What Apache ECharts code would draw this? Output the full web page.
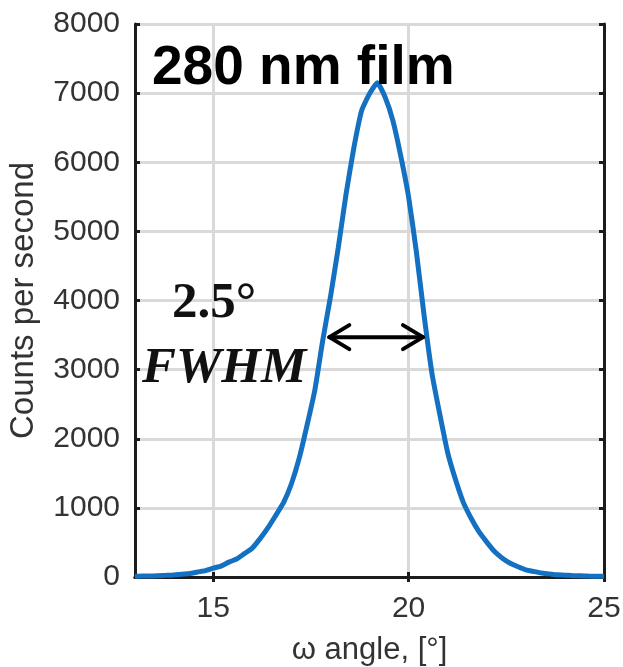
<!DOCTYPE html>
<html>
<head>
<meta charset="utf-8">
<script src="https://cdn.jsdelivr.net/npm/echarts@6/dist/echarts.min.js"></script>
<style>
  html, body { margin: 0; padding: 0; background: #fff; }
  #chart { width: 623px; height: 667px; }
</style>
</head>
<body>
<div id="chart"></div>
<script>
// Rocking curve of the 280 nm film: omega angle (deg) vs counts per second
const omegaAngles = [
  13.0, 13.2, 13.4, 13.6, 13.8, 14.0, 14.2, 14.4, 14.6, 14.8,
  15.0, 15.2, 15.4, 15.6, 15.8, 16.0, 16.2, 16.4, 16.6, 16.8,
  17.0, 17.2, 17.4, 17.6, 17.8, 18.0, 18.2, 18.4, 18.6, 18.8,
  19.0, 19.2, 19.4, 19.6, 19.8, 20.0, 20.2, 20.4, 20.6, 20.8,
  21.0, 21.2, 21.4, 21.6, 21.8, 22.0, 22.2, 22.4, 22.6, 22.8,
  23.0, 23.2, 23.4, 23.6, 23.8, 24.0, 24.2, 24.4, 24.6, 24.8, 25.0
];
const countsPerSecond = [
  10, 14, 13, 19, 24, 30, 41, 50, 72, 92,
  128, 158, 215, 260, 338, 418, 555, 710, 890, 1075,
  1345, 1715, 2190, 2700, 3410, 4050, 4760, 5540, 6210, 6750,
  6990, 7150, 6940, 6600, 6090, 5500, 4700, 3770, 2940, 2350,
  1800, 1410, 1080, 850, 655, 505, 368, 272, 198, 148,
  104, 80, 57, 45, 32, 27, 19, 17, 13, 12, 10
];

// Axis extents and tick spacing
const xMin = 13, xMax = 25, xStep = 1;
const yMin = 0, yMax = 8000, yStep = 1000;
const xTickValues = [15, 20, 25];

// Full width at half maximum annotation
const fwhmLeft = 17.92;
const fwhmWidth = 2.5;
const fwhmLevel = 3470;

const titleText = '280 nm film';
const fwhmValueText = '2.5°';
const fwhmLabelText = 'FWHM';

const curve = omegaAngles.map((x, i) => [x, countsPerSecond[i]]);

const chart = echarts.init(document.getElementById('chart'), null, { renderer: 'canvas' });

const axisLineStyle = { color: '#1c1c1c', width: 3 };
const tickStyle = { color: '#1c1c1c', width: 3 };
const sansFamily = 'Liberation Sans, Arial, sans-serif';

chart.setOption({
  animation: false,
  backgroundColor: '#fff',
  grid: { left: 135, right: 19, top: 24, bottom: 90, containLabel: false, outerBoundsMode: 'none' },
  xAxis: [
    {
      type: 'value', min: xMin, max: xMax, interval: xStep,
      position: 'bottom',
      axisLine: { show: true, lineStyle: axisLineStyle },
      axisTick: { show: true, inside: true, length: 5, lineStyle: tickStyle, customValues: xTickValues },
      axisLabel: {
        fontFamily: sansFamily, fontSize: 30, color: '#333', margin: 17,
        customValues: xTickValues,
        formatter: v => String(v)
      },
      splitLine: { show: true, lineStyle: { color: '#d9d9d9', width: 3 } },
      name: 'ω angle, [°]',
      nameLocation: 'middle',
      nameGap: 58,
      nameTextStyle: { fontFamily: sansFamily, fontSize: 31, color: '#333' }
    },
    {
      type: 'value', min: xMin, max: xMax, interval: xStep,
      position: 'top',
      axisLine: { show: true, lineStyle: axisLineStyle },
      axisTick: { show: true, inside: true, length: 5, lineStyle: tickStyle, customValues: xTickValues },
      axisLabel: { show: false },
      splitLine: { show: false }
    }
  ],
  yAxis: [
    {
      type: 'value', min: yMin, max: yMax, interval: yStep,
      position: 'left',
      axisLine: { show: true, lineStyle: axisLineStyle },
      axisTick: { show: true, inside: true, length: 5, lineStyle: tickStyle },
      axisLabel: { fontFamily: sansFamily, fontSize: 30, color: '#333', margin: 15, formatter: v => String(v) },
      splitLine: { show: true, lineStyle: { color: '#d9d9d9', width: 3 } },
      name: 'Counts per second',
      nameLocation: 'middle',
      nameGap: 95,
      nameTextStyle: { fontFamily: sansFamily, fontSize: 33, color: '#333' }
    },
    {
      type: 'value', min: yMin, max: yMax, interval: yStep,
      position: 'right',
      axisLine: { show: true, lineStyle: axisLineStyle },
      axisTick: { show: true, inside: true, length: 5, lineStyle: tickStyle },
      axisLabel: { show: false },
      splitLine: { show: false }
    }
  ],
  series: [
    {
      type: 'line',
      data: curve,
      xAxisIndex: 0, yAxisIndex: 0,
      showSymbol: false,
      smooth: 0.15,
      lineStyle: { color: '#1470c0', width: 5 },
      z: 3
    },
    {
      // double-headed arrow spanning the half-maximum width
      type: 'custom',
      xAxisIndex: 0, yAxisIndex: 0,
      data: [[fwhmLeft, fwhmLeft + fwhmWidth, fwhmLevel]],
      renderItem: (params, api) => {
        const a = api.coord([api.value(0), api.value(2)]);
        const b = api.coord([api.value(1), api.value(2)]);
        const dx = 22, dy = 12;
        const style = { stroke: '#000', lineWidth: 4, fill: null, lineCap: 'round', lineJoin: 'round' };
        return {
          type: 'group',
          children: [
            { type: 'line', shape: { x1: a[0] + 2, y1: a[1], x2: b[0] - 2, y2: b[1] }, style },
            { type: 'polyline', shape: { points: [[a[0] + dx, a[1] - dy], [a[0] + 2, a[1]], [a[0] + dx, a[1] + dy]] }, style },
            { type: 'polyline', shape: { points: [[b[0] - dx, b[1] - dy], [b[0] - 2, b[1]], [b[0] - dx, b[1] + dy]] }, style }
          ]
        };
      },
      z: 4
    }
  ],
  graphic: [
    {
      type: 'text', left: 152, top: 41, z: 10,
      style: { text: titleText, font: 'bold 55px "Liberation Sans", Arial, sans-serif', fill: '#000' }
    },
    {
      type: 'text', left: 172, top: 278, z: 10,
      style: { text: fwhmValueText, font: 'bold 51px "Liberation Serif", serif', fill: '#111' }
    },
    {
      type: 'text', left: 142, top: 343, z: 10,
      style: { text: fwhmLabelText, font: 'italic bold 51px "Liberation Serif", serif', fill: '#111' }
    }
  ]
});
</script>
</body>
</html>
